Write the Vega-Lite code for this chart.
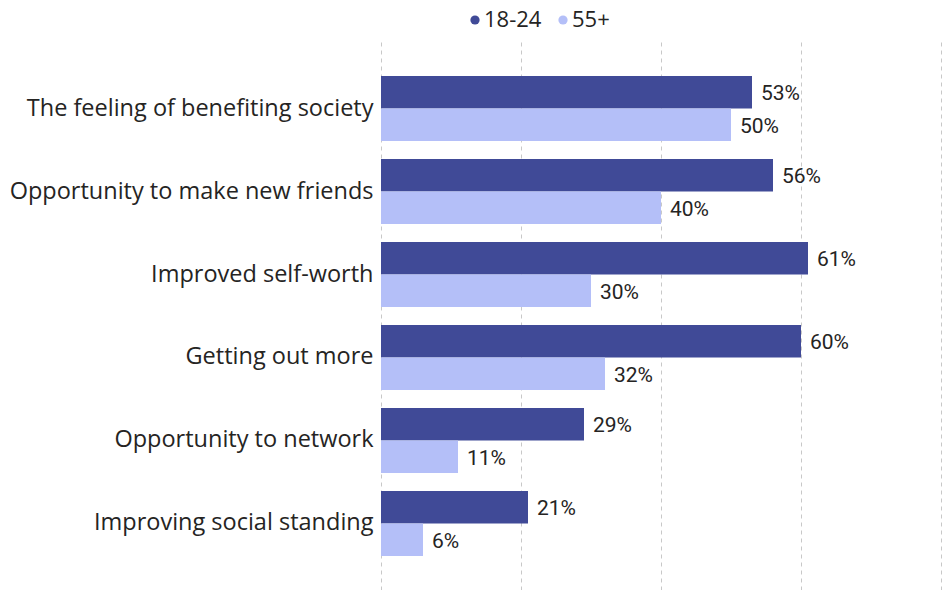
{
  "$schema": "https://vega.github.io/schema/vega-lite/v6.json",
  "width": 560,
  "height": 548,
  "autosize": {"type": "none"},
  "padding": {"left": 381, "top": 42, "right": 6, "bottom": 0},
  "background": "white",
  "config": {
    "view": {"stroke": null},
    "font": "Open Sans"
  },
  "data": {
    "values": [
      {"reason": "The feeling of benefiting society", "group": "18-24", "value": 53},
      {"reason": "The feeling of benefiting society", "group": "55+", "value": 50},
      {"reason": "Opportunity to make new friends", "group": "18-24", "value": 56},
      {"reason": "Opportunity to make new friends", "group": "55+", "value": 40},
      {"reason": "Improved self-worth", "group": "18-24", "value": 61},
      {"reason": "Improved self-worth", "group": "55+", "value": 30},
      {"reason": "Getting out more", "group": "18-24", "value": 60},
      {"reason": "Getting out more", "group": "55+", "value": 32},
      {"reason": "Opportunity to network", "group": "18-24", "value": 29},
      {"reason": "Opportunity to network", "group": "55+", "value": 11},
      {"reason": "Improving social standing", "group": "18-24", "value": 21},
      {"reason": "Improving social standing", "group": "55+", "value": 6}
    ]
  },
  "encoding": {
    "y": {
      "field": "reason",
      "type": "nominal",
      "sort": null,
      "scale": {"paddingInner": 0.217, "paddingOuter": 0.41},
      "axis": {
        "title": null,
        "domain": false,
        "ticks": false,
        "labelPadding": 8,
        "labelFontSize": 23.5,
        "labelColor": "#252423",
        "labelFont": "Open Sans",
        "labelLimit": 400
      }
    },
    "yOffset": {"field": "group", "type": "nominal", "sort": ["18-24", "55+"]},
    "x": {
      "field": "value",
      "type": "quantitative",
      "scale": {"domain": [0, 80], "nice": false},
      "axis": {
        "title": null,
        "labels": false,
        "ticks": false,
        "domain": false,
        "values": [0, 20, 40, 60, 80],
        "grid": true,
        "gridColor": "#c8c8c8",
        "gridDash": [4, 4],
        "gridWidth": 1
      }
    }
  },
  "layer": [
    {
      "mark": {"type": "bar"},
      "encoding": {
        "color": {
          "field": "group",
          "type": "nominal",
          "scale": {"domain": ["18-24", "55+"], "range": ["#404A97", "#B4BFF8"]},
          "legend": {
            "title": null,
            "orient": "none",
            "direction": "horizontal",
            "legendX": 83,
            "legendY": -33,
            "symbolType": "circle",
            "symbolSize": 85,
            "labelFontSize": 22,
            "labelColor": "#252423",
            "labelFont": "Open Sans",
            "columnPadding": 10,
            "labelOffset": -2
          }
        }
      }
    },
    {
      "transform": [{"calculate": "datum.value + '%'", "as": "label"}],
      "mark": {"type": "text", "align": "left", "baseline": "middle", "dx": 9, "dy": 2, "fontSize": 21, "font": "Roboto", "color": "#252423"},
      "encoding": {
        "text": {"field": "label", "type": "nominal"},
        "detail": {"field": "group"}
      }
    }
  ]
}
